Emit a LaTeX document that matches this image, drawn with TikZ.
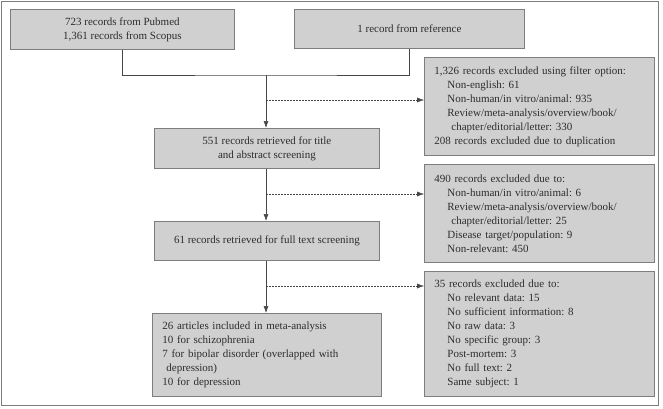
\documentclass[tikz,border=0pt]{standalone}
\usepackage{fontspec}
\setmainfont{Liberation Serif}
\usetikzlibrary{arrows.meta}
\definecolor{boxfill}{RGB}{208,208,208}
\definecolor{boxline}{RGB}{125,125,125}
\definecolor{flowline}{RGB}{70,70,70}
\definecolor{textcol}{RGB}{45,45,45}
\frenchspacing
\begin{document}
\begin{tikzpicture}[x=1pt,y=-1pt,
  box/.style={draw=boxline, fill=boxfill, line width=0.8pt, anchor=north west,
    inner xsep=10pt, inner ysep=0pt, text=textcol,
    font=\fontsize{11}{14}\selectfont\frenchspacing},
  mid/.style={box, align=center},
  side/.style={box, align=left},
  flow/.style={draw=flowline, line width=0.6pt},
  tip/.style={-{Latex[length=7pt,width=5pt]}},
  excl/.style={flow, line width=0.4pt, dash pattern=on 2pt off 1pt}]
  \useasboundingbox (0,0) rectangle (663,408);
  \draw[boxline, line width=0.8pt] (1,1) rectangle (658,405); % frame

  % sources
  \node[mid, minimum width=224pt, minimum height=40pt] (pubmed) at (10,9)
    {723 records from Pubmed\\1,361 records from Scopus};
  \node[mid, minimum width=230pt, minimum height=39pt] (ref) at (294,9)
    {1 record from reference};

  % main steps
  \node[mid, minimum width=225pt, minimum height=40pt] (title) at (154,128)
    {551 records retrieved for title\\and abstract screening};
  \node[mid, minimum width=225pt, minimum height=39pt] (full) at (154,221)
    {61 records retrieved for full text screening};
  \node[side, text width=209pt, minimum height=83pt] (incl) at (152,313)
    {26 articles included in meta-analysis\\
     10 for schizophrenia\\
     7 for bipolar disorder (overlapped with\\
     \hspace*{4pt}depression)\\
     10 for depression};

  % excluded
  \node[side, text width=210pt, minimum height=98pt] (ex1) at (424,57)
    {1,326 records excluded using filter option:\\
     \hspace*{13pt}Non-english: 61\\
     \hspace*{13pt}Non-human/in vitro/animal: 935\\
     \hspace*{13pt}Review/meta-analysis/overview/book/\\
     \hspace*{17pt}chapter/editorial/letter: 330\\
     208 records excluded due to duplication};
  \node[side, text width=210pt, minimum height=98pt] (ex2) at (424,164)
    {490 records excluded due to:\\
     \hspace*{13pt}Non-human/in vitro/animal: 6\\
     \hspace*{13pt}Review/meta-analysis/overview/book/\\
     \hspace*{17pt}chapter/editorial/letter: 25\\
     \hspace*{13pt}Disease target/population: 9\\
     \hspace*{13pt}Non-relevant: 450};
  \node[side, text width=210pt, minimum height=125pt] (ex3) at (424,271)
    {35 records excluded due to:\\
     \hspace*{13pt}No relevant data: 15\\
     \hspace*{13pt}No sufficient information: 8\\
     \hspace*{13pt}No raw data: 3\\
     \hspace*{13pt}No specific group: 3\\
     \hspace*{13pt}Post-mortem: 3\\
     \hspace*{13pt}No full text: 2\\
     \hspace*{13pt}Same subject: 1};

  % connectors
  \coordinate (join) at (266,75);
  \coordinate (d1) at (266,100);
  \coordinate (d2) at (266,194);
  \coordinate (d3) at (266,286);
  \draw[flow] (pubmed.south) |- (join) -| (ref.south);
  \draw[flow, tip] (join) -- (join |- title.north);
  \draw[flow, tip] (join |- title.south) -- (join |- full.north);
  \draw[flow, tip] (join |- full.south) -- (join |- incl.north);

  %exclusions
  \draw[excl, tip] (d1) -- (d1 -| ex1.west);
  \draw[excl, tip] (d2) -- (d2 -| ex2.west);
  \draw[excl, tip] (d3) -- (d3 -| ex3.west);
\end{tikzpicture}
\end{document}
